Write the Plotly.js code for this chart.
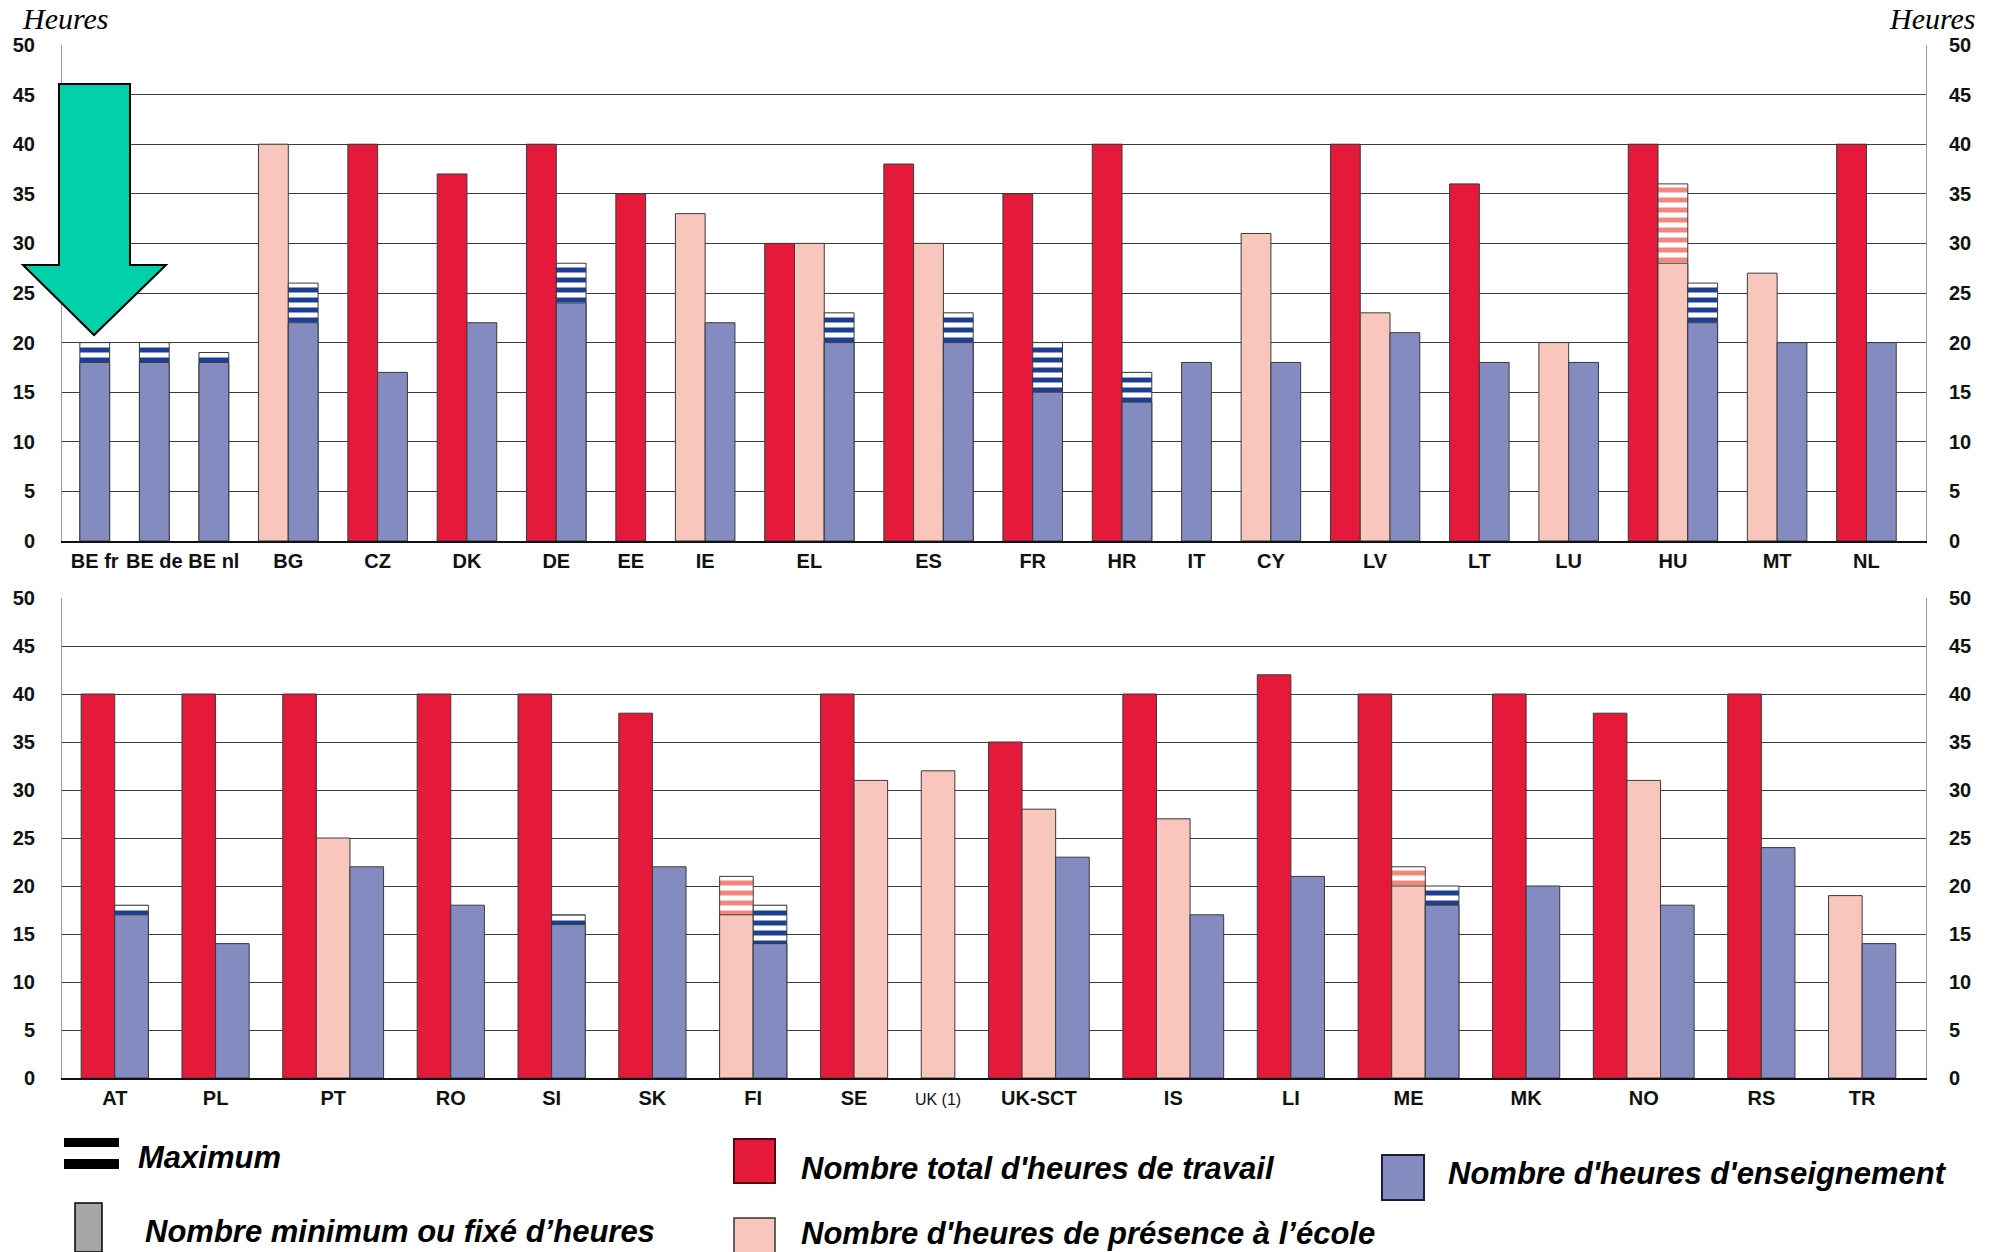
<!DOCTYPE html>
<html>
<head>
<meta charset="utf-8">
<script src="https://cdn.plot.ly/plotly-3.0.1.min.js"></script>
<style>html,body{margin:0;padding:0;background:#fff;}#chart{width:1989px;height:1252px;}</style>
</head>
<body>
<div id="chart"></div>
<script>
// ---------------- DATA ----------------
const topCategories = ["BE fr","BE de","BE nl","BG","CZ","DK","DE","EE","IE","EL","ES","FR","HR","IT","CY","LV","LT","LU","HU","MT","NL"];
const topTotal       = [null,null,null,null,40,37,40,35,null,30,38,35,40,null,null,40,36,null,40,null,40];
const topPresence    = [null,null,null,40,null,null,null,null,33,30,30,null,null,null,31,23,null,20,28,27,null];
const topPresenceMax = [null,null,null,null,null,null,null,null,null,null,null,null,null,null,null,null,null,null,36,null,null];
const topTeaching    = [18,18,18,22,17,22,24,null,22,20,20,15,14,18,18,21,18,18,22,20,20];
const topTeachingMax = [20,20,19,26,null,null,28,null,null,23,23,20,17,null,null,null,null,null,26,null,null];

const botCategories  = ["AT","PL","PT","RO","SI","SK","FI","SE","UK (1)","UK-SCT","IS","LI","ME","MK","NO","RS","TR"];
const botTotal       = [40,40,40,40,40,38,null,40,null,35,40,42,40,40,38,40,null];
const botPresence    = [null,null,25,null,null,null,17,31,32,28,27,null,20,null,31,null,19];
const botPresenceMax = [null,null,null,null,null,null,21,null,null,null,null,null,22,null,null,null,null];
const botTeaching    = [17,14,22,18,16,22,14,null,null,23,17,21,18,20,18,24,14];
const botTeachingMax = [18,null,null,null,17,null,18,null,null,null,null,null,20,null,null,null,null];

const yTickVals = [0,5,10,15,20,25,30,35,40,45,50];

const legendLabels = {
  max: "Maximum",
  min: "Nombre minimum ou fixé d’heures",
  total: "Nombre total d'heures de travail",
  presence: "Nombre d'heures de présence à l’école",
  teaching: "Nombre d'heures d'enseignement"
};
const unitLabel = "Heures";

// ---------------- STYLE ----------------
const C = {
  total: "#e5193a",
  presence: "#f8c6bc",
  teaching: "#848bc0",
  teachStripe: "#1c3f94",
  presStripe: "#f4877c",
  outline: "#3a3a3a"
};
const W = 1989, H = 1252;
const M = {l: 62, r: 63, t: 45, b: 174};
const px = x => (x - M.l) / (W - M.l - M.r);
const py = y => (H - M.b - y) / (H - M.t - M.b);

// positions of bars: consecutive within a group, one empty slot between groups
function positions(cats, total, presence, teaching) {
  let pos = 0;
  const xt = [], xp = [], xe = [], ticks = [];
  cats.forEach((c, i) => {
    const start = pos;
    xt.push(total[i] != null ? pos++ : null);
    xp.push(presence[i] != null ? pos++ : null);
    xe.push(teaching[i] != null ? pos++ : null);
    ticks.push((start + pos - 1) / 2);
    pos++;
  });
  return {xt, xp, xe, ticks, last: pos - 2};
}

const topPos = positions(topCategories, topTotal, topPresence, topTeaching);
const botPos = positions(botCategories, botTotal, botPresence, botTeaching);

function panelTraces(P, total, pres, presMax, teach, teachMax, xa, ya) {
  const line = {color: C.outline, width: 1};
  const base = {type: "bar", xaxis: xa, yaxis: ya, width: 1, showlegend: false, hoverinfo: "y"};
  return [
    Object.assign({}, base, {x: P.xt, y: total, marker: {color: C.total, line}}),
    Object.assign({}, base, {x: P.xp, y: presMax, marker: {color: C.presStripe, line,
      pattern: {shape: "-", bgcolor: "#ffffff", fgcolor: C.presStripe, size: 10, solidity: 0.5}}}),
    Object.assign({}, base, {x: P.xp, y: pres, marker: {color: C.presence, line}}),
    Object.assign({}, base, {x: P.xe, y: teachMax, marker: {color: C.teachStripe, line,
      pattern: {shape: "-", bgcolor: "#ffffff", fgcolor: C.teachStripe, size: 10, solidity: 0.5}}}),
    Object.assign({}, base, {x: P.xe, y: teach, marker: {color: C.teaching, line}})
  ];
}

const data = [].concat(
  panelTraces(topPos, topTotal, topPresence, topPresenceMax, topTeaching, topTeachingMax, "x", "y"),
  panelTraces(botPos, botTotal, botPresence, botPresenceMax, botTeaching, botTeachingMax, "x2", "y2"),
  [{type: "scatter", x: [], y: [], xaxis: "x", yaxis: "y3", showlegend: false},
   {type: "scatter", x: [], y: [], xaxis: "x2", yaxis: "y4", showlegend: false}]
);

const xTickFont = {family: "Arial, 'Liberation Sans', sans-serif", size: 20, color: "#111", weight: "bold"};
const yTickFont = {family: "Arial, 'Liberation Sans', sans-serif", size: 20, color: "#111", weight: "bold"};

function fmtCat(c) {
  if (c === "UK (1)") return '<span style="font-size:16px;font-weight:normal">UK (1)</span>';
  return c;
}

const xBase = {
  showgrid: false, zeroline: false, showline: true, linecolor: "#111", linewidth: 2,
  ticks: "", tickfont: xTickFont, ticklabelstandoff: 1, fixedrange: true
};
const yBase = {
  range: [0, 50], tickvals: yTickVals, ticktext: yTickVals.map(String),
  showgrid: true, gridcolor: "#3c3c3c", gridwidth: 1, zeroline: false,
  showline: true, linecolor: "#999", linewidth: 1, ticks: "", tickfont: yTickFont,
  ticklabelstandoff: 22, fixedrange: true
};

const topDomain = [py(541), 1];
const botDomain = [0, py(598)];

// narrow font detection for the legend
function hasFont(name) {
  const cv = document.createElement("canvas").getContext("2d");
  const s = "Nombre total d'heures de travail";
  cv.font = "40px monospace"; const a = cv.measureText(s).width;
  cv.font = "40px '" + name + "', monospace"; const b = cv.measureText(s).width;
  return Math.abs(a - b) > 1;
}
const narrow = hasFont("Liberation Sans Narrow");
const legFont = narrow
  ? {family: "'Liberation Sans Narrow', 'Arial Narrow', sans-serif", size: 37, color: "#000", weight: "bold", style: "italic"}
  : {family: "Arial, 'Liberation Sans', sans-serif", size: 31, color: "#000", weight: "bold", style: "italic"};

const shapes = [];
const annotations = [];

// green arrow
const arrowPts = [[59,84],[130,84],[130,265],[166,265],[94,335],[23,265],[59,265]];
shapes.push({
  type: "path", xref: "paper", yref: "paper", layer: "above",
  path: "M " + arrowPts.map(p => px(p[0]).toFixed(5) + "," + py(p[1]).toFixed(5)).join(" L ") + " Z",
  fillcolor: "#00d1a8", line: {color: "#000", width: 2}
});

// units
const unitFont = {family: "'Liberation Serif', 'Times New Roman', serif", size: 30, style: "italic", color: "#000"};
annotations.push({xref: "paper", yref: "paper", x: px(20), y: py(18), xanchor: "left", yanchor: "middle",
  text: unitLabel, showarrow: false, font: unitFont});
annotations.push({xref: "paper", yref: "paper", x: px(1978), y: py(18), xanchor: "right", yanchor: "middle",
  text: unitLabel, showarrow: false, font: unitFont});

function rect(x0, y0, x1, y1, fill, lc, lw) {
  shapes.push({type: "rect", xref: "paper", yref: "paper", x0: px(x0), x1: px(x1), y0: py(y1), y1: py(y0),
    fillcolor: fill, line: {color: lc, width: lw}});
}
function label(x, y, t) {
  annotations.push({xref: "paper", yref: "paper", x: px(x), y: py(y), xanchor: "left", yanchor: "middle",
    text: t, showarrow: false, font: legFont});
}
// Maximum
rect(64, 1138, 119, 1147, "#000", "#000", 0);
rect(64, 1159, 119, 1169, "#000", "#000", 0);
label(136, 1157, legendLabels.max);
// minimum
rect(75, 1203, 102, 1252, "#a6a6a6", "#000", 1.5);
label(143, 1231, legendLabels.min);
// total
rect(734, 1139, 775, 1183, C.total, "#5a0010", 2);
label(799, 1168, legendLabels.total);
// presence
rect(734, 1218, 775, 1262, C.presence, "#333", 1.5);
label(799, 1233, legendLabels.presence);
// teaching
rect(1382, 1155, 1424, 1200, C.teaching, "#1c1c40", 2);
label(1446, 1173, legendLabels.teaching);

const layout = {
  width: W, height: H,
  margin: {l: M.l, r: M.r, t: M.t, b: M.b, pad: 0},
  paper_bgcolor: "#fff", plot_bgcolor: "#fff",
  barmode: "overlay", bargap: 0,
  showlegend: false,
  xaxis: Object.assign({}, xBase, {anchor: "y", range: [-1.1, topPos.last + 1.5],
    tickvals: topPos.ticks, ticktext: topCategories.map(fmtCat)}),
  yaxis: Object.assign({}, yBase, {domain: topDomain, anchor: "x", side: "left", mirror: true}),
  yaxis3: Object.assign({}, yBase, {domain: topDomain, anchor: "x", overlaying: "y", side: "right", showgrid: false, showline: false}),
  xaxis2: Object.assign({}, xBase, {anchor: "y2", range: [-1.07, botPos.last + 1.4],
    tickvals: botPos.ticks, ticktext: botCategories.map(fmtCat)}),
  yaxis2: Object.assign({}, yBase, {domain: botDomain, anchor: "x2", side: "left", mirror: true}),
  yaxis4: Object.assign({}, yBase, {domain: botDomain, anchor: "x2", overlaying: "y2", side: "right", showgrid: false, showline: false}),
  shapes: shapes,
  annotations: annotations
};

Plotly.newPlot("chart", data, layout, {displayModeBar: false, staticPlot: true});
</script>
</body>
</html>
